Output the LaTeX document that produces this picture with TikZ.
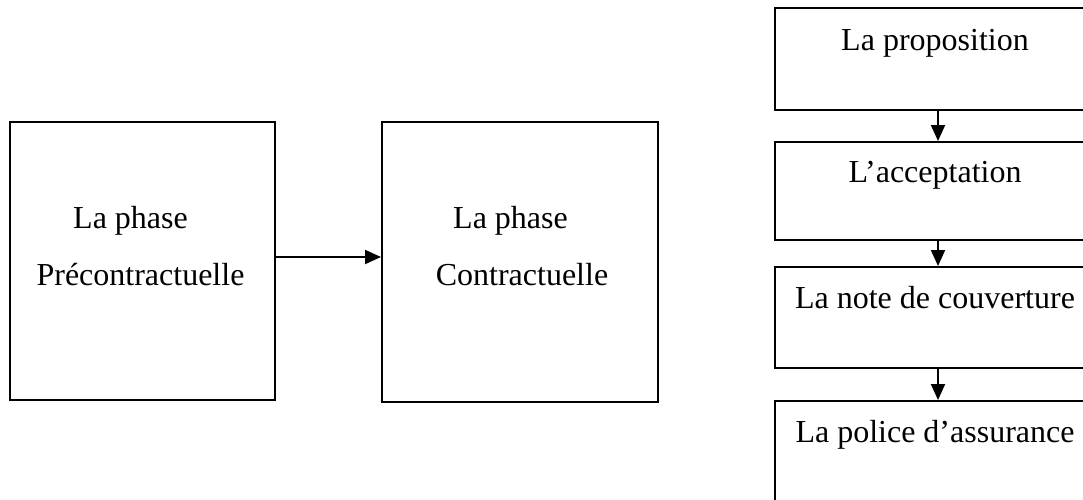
\documentclass[tikz,border=0pt]{standalone}
\usepackage{fontspec}
\setmainfont{Liberation Serif}
\usetikzlibrary{arrows.meta}
\begin{document}
\begin{tikzpicture}[x=1pt,y=-1pt,
  box/.style={draw=black,line width=2pt,rectangle,inner sep=0pt},
  lbl/.style={inner sep=0pt,font=\fontsize{32}{38}\selectfont,anchor=base},
  conn/.style={line width=2pt,-{Triangle[length=16pt,width=14pt]}}]
\useasboundingbox (0,0) rectangle (1083,499);
% left boxes
\node[box,minimum width=265,minimum height=278] (pre) at (142.5,261) {};
\node[box,minimum width=276,minimum height=280] (con) at (520,262) {};
\node[lbl,anchor=base west] (preA) at (73,228) {La phase};
\node[lbl] (preB) at (140.5,285) {Précontractuelle};
\node[lbl,anchor=base west] (conA) at (453,228) {La phase};
\node[lbl] (conB) at (522,285) {Contractuelle};
\draw[conn] (pre.east |- 0,257) -- (con.west |- 0,257);
% right column
\node[box,minimum width=320,minimum height=102] (b1) at (935,59) {};
\node[box,minimum width=320,minimum height=98] (b2) at (935,191) {};
\node[box,minimum width=320,minimum height=101] (b3) at (935,317.5) {};
\node[box,minimum width=320,minimum height=106] (b4) at (935,454) {};
\node[lbl] (t1) at (935,50) {La proposition};
\node[lbl] (t2) at (935,182) {L’acceptation};
\node[lbl] (t3) at (935,308) {La note de couverture};
\node[lbl] (t4) at (935,442) {La police d’assurance};
\draw[conn] ([xshift=3pt]b1.south) -- ([xshift=3pt]b2.north);
\draw[conn] ([xshift=3pt]b2.south) -- ([xshift=3pt]b3.north);
\draw[conn] ([xshift=3pt]b3.south) -- ([xshift=3pt]b4.north);
\end{tikzpicture}
\end{document}
